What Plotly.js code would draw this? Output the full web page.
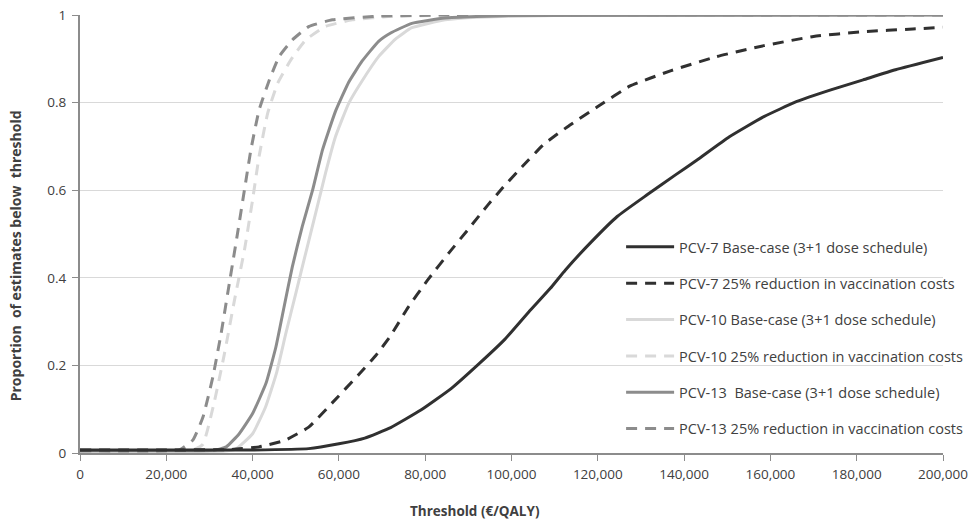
<!DOCTYPE html>
<html>
<head>
<meta charset="utf-8">
<script src="https://cdn.plot.ly/plotly-3.0.1.min.js"></script>
<style>html,body{margin:0;padding:0;background:#fff;}#chart{width:980px;height:520px;}</style>
</head>
<body>
<div id="chart"></div>
<script>
// Series names
const seriesNames = [
  "PCV-7 Base-case (3+1 dose schedule)",
  "PCV-7 25% reduction in vaccination costs",
  "PCV-10 Base-case (3+1 dose schedule)",
  "PCV-10 25% reduction in vaccination costs",
  "PCV-13\u00A0 Base-case (3+1 dose schedule)",
  "PCV-13 25% reduction in vaccination costs"
];

// PCV-7 base-case
const pcv7BaseX = [0, 20000, 40000, 53000, 60000, 66000, 72000, 79000, 86000, 92500, 98500, 104000, 109000, 112500, 118500, 124500, 131500, 138000, 143000, 150500, 158500, 166000, 174000, 181500, 189000, 200000];
const pcv7BaseY = [0.007, 0.007, 0.007, 0.01, 0.021, 0.034, 0.058, 0.098, 0.147, 0.204, 0.26, 0.322, 0.376, 0.418, 0.482, 0.54, 0.59, 0.635, 0.669, 0.722, 0.768, 0.802, 0.829, 0.852, 0.875, 0.903];

// PCV-7 25% reduction
const pcv7RedX = [0, 20000, 35000, 41500, 47500, 53000, 58500, 64500, 68500, 72000, 76000, 80500, 85500, 90000, 94500, 98000, 102500, 107500, 113000, 120000, 127500, 137000, 147500, 158500, 170000, 181500, 193000, 200000];
const pcv7RedY = [0.007, 0.007, 0.008, 0.014, 0.029, 0.059, 0.115, 0.178, 0.222, 0.268, 0.332, 0.394, 0.457, 0.511, 0.566, 0.606, 0.654, 0.705, 0.745, 0.791, 0.838, 0.873, 0.905, 0.93, 0.951, 0.962, 0.968, 0.972];

// PCV-10 base-case
const pcv10BaseX = [0, 20000, 33000, 36000, 40000, 43000, 45500, 47700, 50000, 52300, 54600, 56900, 59200, 62300, 65400, 69200, 73100, 76900, 84600, 92300, 110000, 200000];
const pcv10BaseY = [0.004, 0.004, 0.004, 0.008, 0.044, 0.105, 0.181, 0.273, 0.364, 0.456, 0.547, 0.639, 0.722, 0.799, 0.85, 0.905, 0.945, 0.971, 0.989, 0.995, 0.999, 1.0];

// PCV-10 25% reduction
const pcv10RedX = [0, 20000, 26000, 28500, 31200, 33500, 35800, 38100, 40000, 41500, 43500, 45800, 48900, 52300, 56900, 63100, 72300, 90000, 200000];
const pcv10RedY = [0.004, 0.004, 0.006, 0.02, 0.12, 0.228, 0.349, 0.463, 0.578, 0.677, 0.776, 0.844, 0.898, 0.943, 0.974, 0.989, 0.997, 1.0, 1.0];

// PCV-13 base-case
const pcv13BaseX = [0, 20000, 31000, 33900, 36900, 40000, 43100, 45400, 47300, 49200, 51500, 53900, 56200, 59200, 62300, 65400, 69200, 72000, 76900, 84600, 100000, 200000];
const pcv13BaseY = [0.005, 0.005, 0.006, 0.014, 0.044, 0.09, 0.159, 0.242, 0.334, 0.425, 0.517, 0.6, 0.692, 0.78, 0.847, 0.895, 0.94, 0.959, 0.981, 0.993, 0.999, 1.0];

// PCV-13 25% reduction
const pcv13RedX = [0, 20000, 23100, 26200, 28500, 30800, 32700, 34600, 36500, 38100, 39600, 41500, 43900, 46200, 49200, 53100, 58500, 68500, 85000, 200000];
const pcv13RedY = [0.005, 0.005, 0.007, 0.03, 0.082, 0.174, 0.273, 0.387, 0.501, 0.6, 0.692, 0.783, 0.852, 0.906, 0.943, 0.974, 0.989, 0.997, 1.0, 1.0];

const xTickVals = [0, 20000, 40000, 60000, 80000, 100000, 120000, 140000, 160000, 180000, 200000];
const yTickVals = [0, 0.2, 0.4, 0.6, 0.8, 1];

const xTitle = "Threshold (€/QALY)";
const yTitle = "Proportion\u00A0 of estimates below\u00A0 threshold";

const dark = "#303030", mid = "#8c8c8c", light = "#d9d9d9";
const dashPat = "11px,8px";

const xs = [pcv7BaseX, pcv7RedX, pcv10BaseX, pcv10RedX, pcv13BaseX, pcv13RedX];
const ys = [pcv7BaseY, pcv7RedY, pcv10BaseY, pcv10RedY, pcv13BaseY, pcv13RedY];
const colors = [dark, dark, light, light, mid, mid];
const dashes = ["solid", dashPat, "solid", dashPat, "solid", dashPat];

const traces = seriesNames.map((n, i) => ({
  type: "scatter", mode: "lines", name: n,
  x: xs[i], y: ys[i],
  legendgroup: "g" + i, legendrank: i + 1,
  line: {color: colors[i], width: 3, dash: dashes[i], shape: "spline", smoothing: 0.4},
  hoverinfo: "x+y"
}));
// draw order: light first so darker lines sit on top
const drawOrder = [2, 3, 4, 5, 1, 0];
const data = drawOrder.map(i => traces[i]);

const font = "'Open Sans', 'Liberation Sans', sans-serif";
const txt = "#404040";
const layout = {
  width: 980, height: 520,
  margin: {l: 80, r: 33, t: 15, b: 67},
  paper_bgcolor: "#fff", plot_bgcolor: "#fff",
  font: {family: font, size: 13, color: txt},
  showlegend: true,
  legend: {
    x: 0.627, y: 0.507, xanchor: "left", yanchor: "top",
    bgcolor: "rgba(0,0,0,0)", borderwidth: 0,
    font: {family: font, size: 14.5, color: txt},
    traceorder: "grouped", tracegroupgap: 14.5, itemwidth: 48
  },
  xaxis: {
    range: [0, 200000], tickvals: xTickVals, tickformat: ",",
    showline: true, linecolor: "#8c8c8c", linewidth: 2,
    ticks: "outside", ticklen: 6, tickcolor: "#8c8c8c", tickwidth: 1,
    showgrid: false, zeroline: false, ticklabelstandoff: 2,
    tickfont: {family: font, size: 13.5, color: txt}
  },
  yaxis: {
    range: [0, 1], tickvals: yTickVals,
    showline: true, linecolor: "#8c8c8c", linewidth: 2,
    ticks: "outside", ticklen: 6, tickcolor: "#8c8c8c", tickwidth: 1,
    showgrid: true, gridcolor: "#d9d9d9", gridwidth: 1, zeroline: false,
    ticklabelstandoff: 3,
    tickfont: {family: font, size: 13.5, color: txt}
  },
  annotations: [
    {text: xTitle, xref: "paper", yref: "paper", x: (477 - 80) / 867, y: -(511 - 453) / 438,
     xanchor: "center", yanchor: "middle", showarrow: false,
     font: {family: font, size: 13.5, color: txt, weight: "bold"}},
    {text: yTitle, xref: "paper", yref: "paper", x: (15 - 80) / 867, y: (453 - 256) / 438,
     xanchor: "center", yanchor: "middle", showarrow: false, textangle: -90,
     font: {family: font, size: 14, color: txt, weight: "bold"}}
  ]
};

Plotly.newPlot("chart", data, layout, {displayModeBar: false, staticPlot: true});
</script>
</body>
</html>
